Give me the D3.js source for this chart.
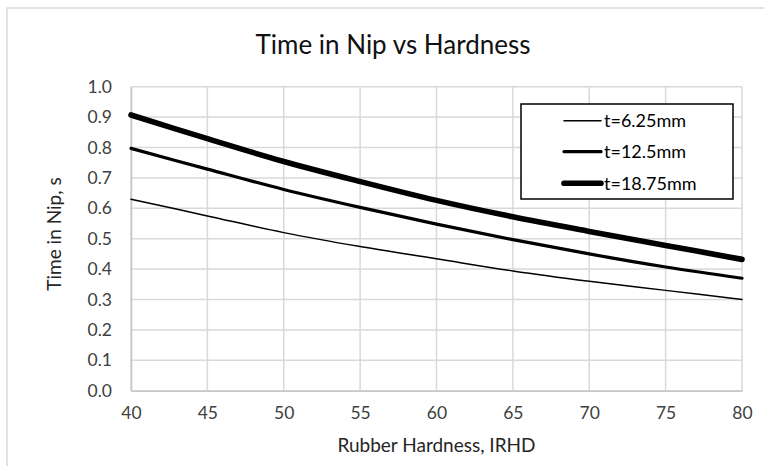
<!DOCTYPE html>
<html>
<head>
<meta charset="utf-8">
<script src="https://cdn.jsdelivr.net/npm/d3@7"></script>
<style>
  html, body { margin: 0; padding: 0; background: #fff; }
  svg { display: block; }
  text { font-family: Lato, "Open Sans", sans-serif; }
</style>
</head>
<body>
<svg id="chart" width="764" height="466"></svg>
<script>
// ---- data ----
const hardness = [40, 45, 50, 55, 60, 65, 70, 75, 80];
const thin = [0.630, 0.575, 0.520, 0.474, 0.434, 0.394, 0.360, 0.330, 0.300];     // t=6.25mm
const medium = [0.797, 0.729, 0.662, 0.603, 0.548, 0.497, 0.450, 0.407, 0.370];   // t=12.5mm
const thick = [0.907, 0.829, 0.754, 0.688, 0.626, 0.572, 0.524, 0.478, 0.432];    // t=18.75mm
const seriesNames = ["t=6.25mm", "t=12.5mm", "t=18.75mm"];
const xTicks = [40, 45, 50, 55, 60, 65, 70, 75, 80];
const yTicks = [0, 0.1, 0.2, 0.3, 0.4, 0.5, 0.6, 0.7, 0.8, 0.9, 1.0];
const titleText = "Time in Nip vs Hardness";
const xTitle = "Rubber Hardness, IRHD";
const yTitle = "Time in Nip, s";

const seriesValues = [thin, medium, thick];
const widths = [1.5, 3.2, 5.6];

const svg = d3.select("#chart");
const W = 764, H = 466;
const plot = { left: 131, right: 742, top: 86.7, bottom: 390.7 };

// outer chart border
svg.append("rect")
  .attr("x", 7).attr("y", 8)
  .attr("width", W + 10).attr("height", H + 10)
  .attr("fill", "#fff").attr("stroke", "#d9d9d9").attr("stroke-width", 1.5);

const x = d3.scaleLinear().domain([40, 80]).range([plot.left, plot.right]);
const y = d3.scaleLinear().domain([0, 1]).range([plot.bottom, plot.top]);

// gridlines
const gGrid = svg.append("g");
gGrid.selectAll("line.h").data(yTicks).join("line")
  .attr("x1", plot.left).attr("x2", plot.right)
  .attr("y1", d => y(d)).attr("y2", d => y(d))
  .attr("stroke", "#d9d9d9").attr("stroke-width", 1.5);
gGrid.selectAll("line.v").data(xTicks).join("line")
  .attr("y1", plot.top).attr("y2", plot.bottom)
  .attr("x1", d => x(d)).attr("x2", d => x(d))
  .attr("stroke", "#d9d9d9").attr("stroke-width", 1.5);

// axes (D3 axes, styled like Excel)
const xAxis = svg.append("g")
  .attr("transform", `translate(0,${plot.bottom})`)
  .call(d3.axisBottom(x).tickValues(xTicks).tickSize(0).tickPadding(16).tickFormat(d3.format("d")));
const yAxis = svg.append("g")
  .attr("transform", `translate(${plot.left},0)`)
  .call(d3.axisLeft(y).tickValues(yTicks).tickSize(0).tickPadding(19).tickFormat(d3.format(".1f")));
[xAxis, yAxis].forEach(g => {
  g.select(".domain").attr("stroke", "#c8c8c8").attr("stroke-width", 1.6);
  g.selectAll("text").attr("fill", "#404040").style("font-size", "17.5px")
    .style("font-family", "Lato, sans-serif");
});

// series lines (smoothed like Excel)
const line = d3.line()
  .x((d, i) => x(hardness[i]))
  .y(d => y(d))
  .curve(d3.curveCatmullRom.alpha(0.5));
svg.append("g").selectAll("path").data(seriesValues).join("path")
  .attr("d", d => line(d))
  .attr("fill", "none").attr("stroke", "#000")
  .attr("stroke-width", (d, i) => widths[i])
  .attr("stroke-linecap", "round").attr("stroke-linejoin", "round");

// title
svg.append("text")
  .attr("x", 393).attr("y", 54)
  .attr("text-anchor", "middle")
  .attr("fill", "#111")
  .style("font-size", "26px")
  .text(titleText);

// axis titles
svg.append("text")
  .attr("x", (plot.left + plot.right) / 2).attr("y", 452)
  .attr("text-anchor", "middle").attr("fill", "#262626")
  .style("font-size", "19px")
  .text(xTitle);
svg.append("text")
  .attr("transform", `translate(61,234) rotate(-90)`)
  .attr("text-anchor", "middle").attr("fill", "#262626")
  .style("font-size", "19px")
  .text(yTitle);

// legend
const lg = svg.append("g");
lg.append("rect")
  .attr("x", 521).attr("y", 104).attr("width", 212).attr("height", 95)
  .attr("fill", "#fff").attr("stroke", "#000").attr("stroke-width", 1.5);
const rowsY = [120.7, 151.7, 183.3];
seriesNames.forEach((name, i) => {
  lg.append("line")
    .attr("x1", 564).attr("x2", 601)
    .attr("y1", rowsY[i]).attr("y2", rowsY[i])
    .attr("stroke", "#000").attr("stroke-width", widths[i])
    .attr("stroke-linecap", "round");
  lg.append("text")
    .attr("x", 604).attr("y", rowsY[i])
    .attr("dy", "0.35em")
    .attr("fill", "#000")
    .style("font-size", "18px")
    .text(name);
});
</script>
</body>
</html>
